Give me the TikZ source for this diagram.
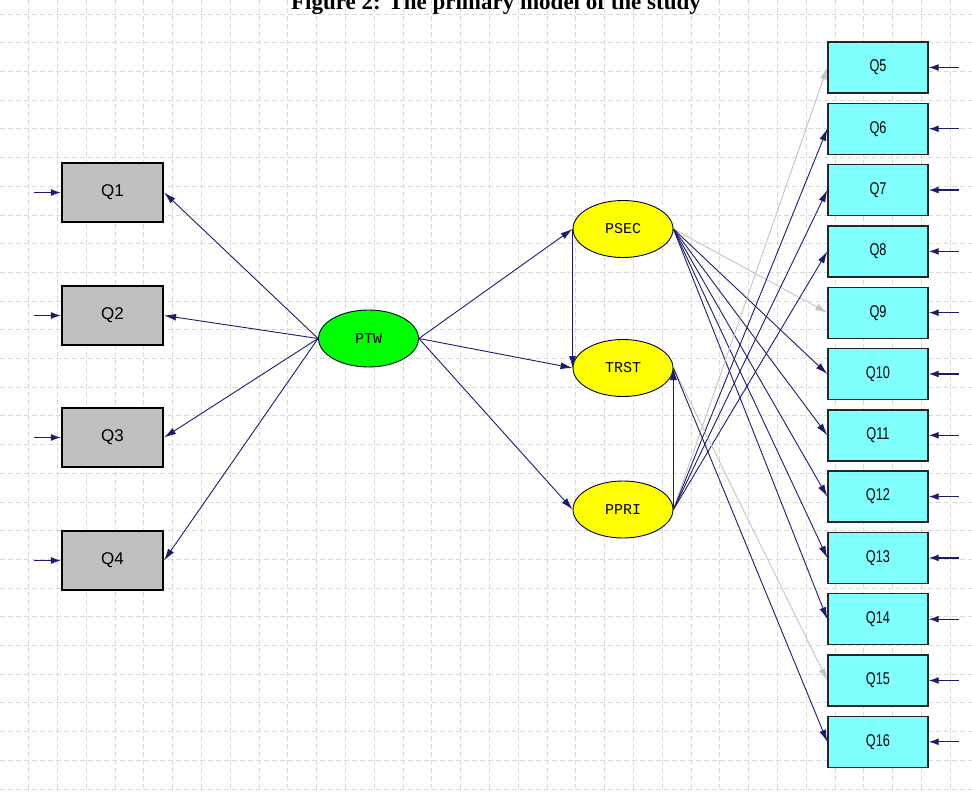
\documentclass[tikz,border=0pt]{standalone}
\usepackage{fontspec}
\setmainfont{Liberation Serif}
\newfontfamily\leftlabel{Liberation Sans}
\newfontfamily\rightlabel[FakeStretch=0.75]{Liberation Sans}
\newfontfamily\latentlabel{Liberation Mono}
\usetikzlibrary{shapes.geometric,arrows.meta,calc}

\definecolor{pathnavy}{HTML}{1C1C6E}
\definecolor{pathgray}{HTML}{C4C4C4}
\definecolor{gridgray}{HTML}{DADADA}
\definecolor{boxgray}{HTML}{C0C0C0}
\definecolor{boxcyan}{HTML}{80FFFF}
\definecolor{latentgreen}{HTML}{00FF00}
\definecolor{latentyellow}{HTML}{FFFF00}

\tikzset{
  gridline/.style={draw=gridgray, line width=0.7pt, dash pattern=on 5pt off 3pt},
  xbox/.style={rectangle, draw=black, line width=2.2pt, fill=boxgray,
    minimum width=101pt, minimum height=59pt, inner sep=0pt,
    font=\leftlabel\fontsize{17}{19}\selectfont},
  ybox/.style={rectangle, draw=black!85, line width=1.4pt, fill=boxcyan,
    minimum width=100pt, minimum height=51pt, inner sep=0pt,
    font=\rightlabel\fontsize{17}{19}\selectfont},
  latent/.style={ellipse, draw=black!80!blue, line width=0.9pt,
    minimum width=100pt, minimum height=57pt, inner sep=0pt,
    font=\latentlabel\fontsize{15}{17}\selectfont},
  conn/.style={draw=pathnavy, line width=0.9pt, -{Latex[length=12pt,width=7pt]}},
  grayconn/.style={draw=pathgray, line width=0.9pt, -{Latex[length=12pt,width=7pt]}},
  errarrow/.style={draw=pathnavy, line width=1.3pt, -{Latex[length=10pt,width=7pt]}},
}

\begin{document}
\begin{tikzpicture}[x=1pt,y=-1pt]
\useasboundingbox (0,0) rectangle (972,792);
\clip (0,0) rectangle (972,792);
\fill[white] (0,0) rectangle (972,792);

% background grid
\foreach \i in {0,...,33}
  \draw[gridline] ({28.5+28.8*\i},0) -- ++(0,792);
\foreach \j in {0,...,27}
  \draw[gridline] (0,{14+28.7*\j}) -- ++(972,0);

% title
\node[anchor=base, font=\bfseries\fontsize{23}{25}\selectfont, inner sep=0pt] (title) at (496,9.5) {Figure 2: The primary model of the study};

% observed variables, left
\node[xbox] (Q1) at (112.5,192.5) {Q1};
\node[xbox] (Q2) at (112.5,315.5) {Q2};
\node[xbox] (Q3) at (112.5,437.5) {Q3};
\node[xbox] (Q4) at (112.5,560.5) {Q4};

% latent variables
\node[latent, fill=latentgreen] (PTW) at (368.5,338.5) {PTW};
\node[latent, fill=latentyellow] (PSEC) at (623,229) {PSEC};
\node[latent, fill=latentyellow] (TRST) at (623,368) {TRST};
\node[latent, fill=latentyellow] (PPRI) at (623,509.5) {PPRI};

% observed variables, right
\foreach \k in {5,...,16}
  \node[ybox] (Q\k) at (878,{67.5+61.3*(\k-5)}) {Q\k};

% error terms
\foreach \k in {1,...,4} {
  \coordinate (eL\k) at ($(Q\k.west)+(-27,0)$);
  \draw[errarrow] (eL\k) -- (Q\k.west);
}
\foreach \k in {5,...,16} {
  \coordinate (eR\k) at ($(Q\k.east)+(30,0)$);
  \draw[errarrow] (eR\k) -- (Q\k.east);
}

% PTW loadings
\foreach \k in {1,...,4}
  \draw[conn] (PTW.west) -- (Q\k.east);

% structural paths
\draw[conn] (PTW.east) -- (PSEC.west);
\draw[conn] (PTW.east) -- (TRST.west);
\draw[conn] (PTW.east) -- (PPRI.west);
\draw[conn] (PSEC.west) -- (TRST.west);
\draw[conn] (PPRI.east) -- (TRST.east);

% loadings of the yellow factors
\draw[grayconn] (PSEC.east) -- (Q9.west);
\foreach \k in {10,...,14}
  \draw[conn] (PSEC.east) -- (Q\k.west);
\draw[grayconn] (PPRI.east) -- (Q5.west);
\foreach \k in {6,7,8}
  \draw[conn] (PPRI.east) -- (Q\k.west);
\draw[grayconn] (TRST.east) -- (Q15.west);
\draw[conn] (TRST.east) -- (Q16.west);
\end{tikzpicture}
\end{document}
